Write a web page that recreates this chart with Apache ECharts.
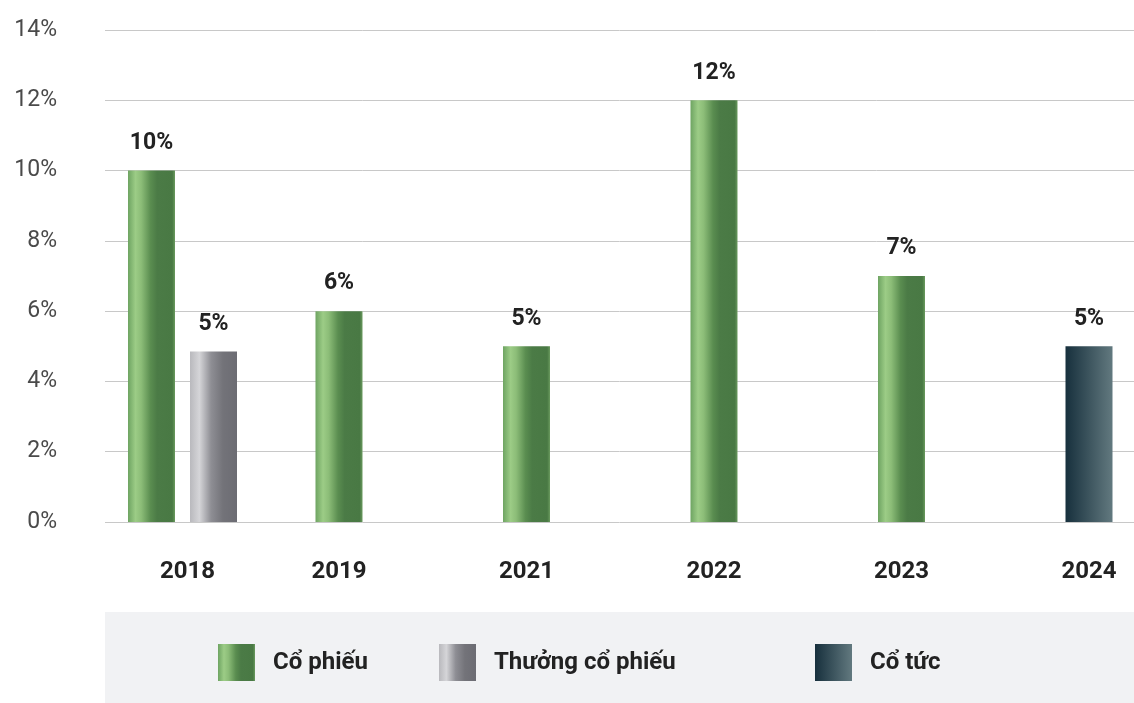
<!DOCTYPE html>
<html>
<head>
<meta charset="utf-8">
<script src="https://cdn.jsdelivr.net/npm/echarts@6/dist/echarts.min.js"></script>
<style>
html,body{margin:0;padding:0;background:#fff;}
#c{width:1134px;height:703px;}
</style>
</head>
<body>
<div id="c"></div>
<script>
const years = ['2018', '2019', '2021', '2022', '2023', '2024'];
const coPhieu = [10, 6, 5, 12, 7, null];
const thuongCoPhieu = [4.85, null, null, null, null, null];
const coTuc = [null, null, null, null, null, 5];
const yTicks = { min: 0, max: 14, interval: 2 };
const seriesNames = ['Cổ phiếu', 'Thưởng cổ phiếu', 'Cổ tức'];

const FONT = 'Roboto';
const lg = (stops) => new echarts.graphic.LinearGradient(0, 0, 1, 0, stops.map(s => ({ offset: s[0], color: s[1] })));
const greenGrad = lg([[0, '#6ea462'], [0.16, '#9ccc86'], [0.28, '#8cbd78'], [0.48, '#5a8d50'], [0.62, '#4b7b46'], [0.94, '#497944'], [1, '#6a9a5e']]);
const grayGrad = lg([[0, '#b9b9bd'], [0.2, '#d5d5d8'], [0.45, '#8e8e94'], [0.7, '#737379'], [1, '#6c6c73']]);
const darkGrad = lg([[0, '#17303d'], [1, '#62797f']]);

const label = {
  show: true, position: 'top', distance: 16,
  fontFamily: FONT, fontWeight: 'bold', fontSize: 23, color: '#222',
  formatter: p => p.value == null ? '' : Math.round(p.value) + '%'
};

const gridBase = { top: 30, bottom: 181, outerBoundsMode: 'none', containLabel: false };

const chart = echarts.init(document.getElementById('c'));
chart.setOption({
  animation: false,
  backgroundColor: '#fff',
  graphic: [{
    type: 'rect', left: 105, top: 612, z: -10,
    shape: { width: 1029, height: 91 },
    style: { fill: '#f1f2f4' }
  }],
  grid: [
    Object.assign({ left: 105, right: 0 }, gridBase),
    Object.assign({ left: 57.75, width: 1125 }, gridBase),
    Object.assign({ left: 119.75, width: 1125 }, gridBase)
  ],
  xAxis: [
    { gridIndex: 0, type: 'value', show: false, min: 0, max: 1 },
    {
      gridIndex: 1, type: 'category', data: years,
      axisLine: { show: false }, axisTick: { show: false },
      axisLabel: {
        margin: 38, fontFamily: FONT, fontWeight: 'bold', fontSize: 24, color: '#222',
        formatter: v => v === '2018' ? '{s|' + v + '}' : v,
        rich: { s: { padding: [0, 0, 0, 72], fontFamily: FONT, fontWeight: 'bold', fontSize: 24, color: '#222' } }
      }
    },
    { gridIndex: 2, type: 'category', data: years, show: false }
  ],
  yAxis: [
    {
      gridIndex: 0, type: 'value', min: yTicks.min, max: yTicks.max, interval: yTicks.interval,
      axisLine: { show: false }, axisTick: { show: false },
      axisLabel: { formatter: '{value}%', margin: 48, fontFamily: FONT, fontSize: 23, color: '#4a4a4a' },
      splitLine: { lineStyle: { color: '#c8c8c8', width: 1 } }
    },
    { gridIndex: 1, type: 'value', min: yTicks.min, max: yTicks.max, interval: yTicks.interval, show: false },
    { gridIndex: 2, type: 'value', min: yTicks.min, max: yTicks.max, interval: yTicks.interval, show: false }
  ],
  legend: [
    { data: [seriesNames[0]], left: 218, top: 644 },
    { data: [seriesNames[1]], left: 439, top: 644 },
    { data: [seriesNames[2]], left: 815, top: 644 }
  ].map(l => Object.assign(l, {
    itemWidth: 37, itemHeight: 37, icon: 'rect', padding: 0,
    textStyle: { fontFamily: FONT, fontWeight: 'bold', fontSize: 24, color: '#222', padding: [6, 0, 0, 13] }
  })),
  series: [
    { name: seriesNames[0], type: 'bar', xAxisIndex: 1, yAxisIndex: 1, stack: 'a', data: coPhieu, barWidth: 47, itemStyle: { color: greenGrad }, label: label },
    { name: seriesNames[2], type: 'bar', xAxisIndex: 1, yAxisIndex: 1, stack: 'a', data: coTuc, barWidth: 47, itemStyle: { color: darkGrad }, label: label },
    { name: seriesNames[1], type: 'bar', xAxisIndex: 2, yAxisIndex: 2, data: thuongCoPhieu, barWidth: 47, itemStyle: { color: grayGrad }, label: label }
  ]
});
</script>
</body>
</html>
